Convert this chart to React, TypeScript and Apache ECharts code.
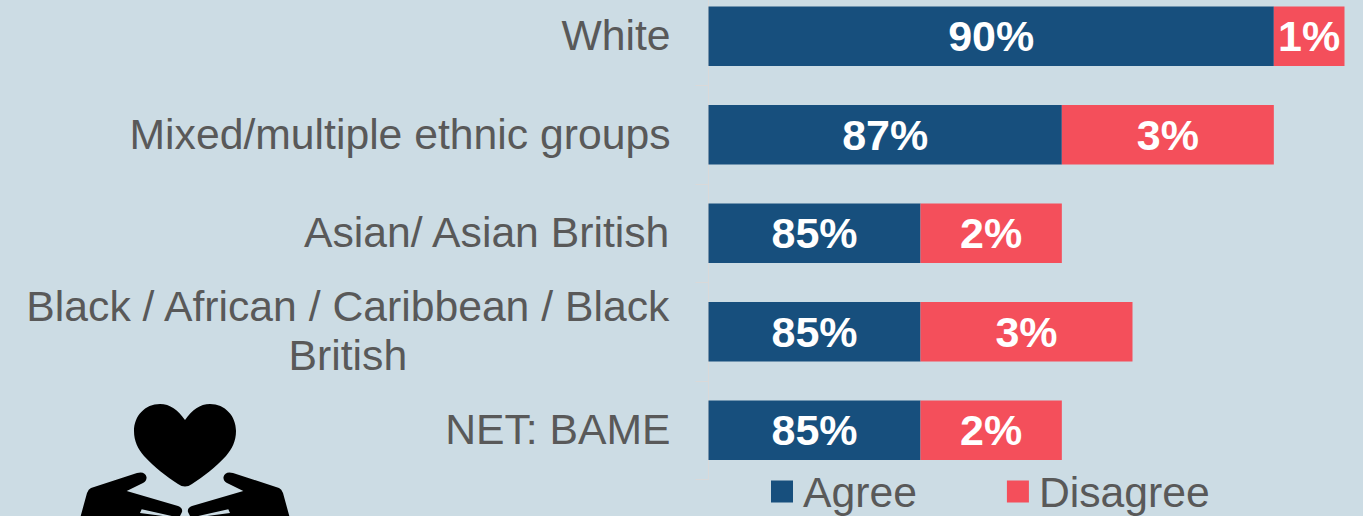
import React, { useEffect, useRef } from "react";
import * as echarts from "echarts";

const categories = [
  "White",
  "Mixed/multiple ethnic groups",
  "Asian/ Asian British",
  "Black / African / Caribbean / Black\nBritish",
  "NET: BAME",
];
const agree = [90, 87, 85, 85, 85];
const disagree = [1, 3, 2, 3, 2];

const heart =
  "M185 420 C178 410 170 404 160 404 C145 404 134 416 134 431 C134 441 138 449 144 456 C155 468 166 476 178 484 Q185 489 192 484 C204 476 215 468 226 456 C232 449 236 441 236 431 C236 416 225 404 210 404 C200 404 192 410 185 420 Z";
const hand =
  "M80.7 516 L87 493 Q88.5 489 91 488 L137 473 Q145 471 146.5 477 Q147 481 143 483 L126.7 491 L178 506 Q183 508 182 512 L180 516 Z M141.7 509.3 L140 513 L163 516 L171.7 516 Z";

echarts.graphic.registerShape("heartIcon", echarts.graphic.extendPath(heart, {}));
echarts.graphic.registerShape("handIcon", echarts.graphic.extendPath(hand, {}));

const FONT = "'Liberation Sans', Arial, sans-serif";
const BG = "#ccdce4";
const TEXT = "#595959";
const BLUE = "#174f7d";
const RED = "#f44f5b";

export default function App() {
  const ref = useRef<HTMLDivElement>(null);
  useEffect(() => {
    const chart = echarts.init(ref.current!, null, { renderer: "svg" });
    const barLabel = {
      show: true,
      position: "inside",
      formatter: "{c}%",
      color: "#ffffff",
      fontFamily: FONT,
      fontWeight: "bold",
      fontSize: 43,
    };
    chart.setOption({
      animation: false,
      backgroundColor: BG,
      textStyle: { fontFamily: FONT },
      grid: { left: 708.5, top: -13, width: 636, height: 492.5, containLabel: false, outerBoundsMode: "none" },
      xAxis: { type: "value", min: 82, max: 91, show: false },
      yAxis: {
        type: "category",
        inverse: true,
        data: categories,
        axisLine: { show: true, lineStyle: { color: "#d9d9d9", width: 1 } },
        axisTick: { show: true, length: 13, lineStyle: { color: "#d9d9d9", width: 1 } },
        axisLabel: {
          margin: 38,
          padding: [0, 0, 2, 0],
          color: TEXT,
          fontFamily: FONT,
          fontSize: 42.7,
          lineHeight: 49,
          interval: 0,
          formatter: (v: string) =>
            v.split("\n").map((s) => `{c|${s}}`).join("\n"),
          rich: {
            c: { align: "center", color: TEXT, fontFamily: FONT, fontSize: 42.7, lineHeight: 49 },
          },
        },
      },
      legend: {
        left: 771,
        top: 470,
        padding: 0,
        itemWidth: 22,
        itemHeight: 22,
        itemGap: 90,
        icon: "rect",
        textStyle: { color: TEXT, fontFamily: FONT, fontSize: 42.7, padding: [0, 0, 0, 5] },
        data: ["Agree", "Disagree"],
      },
      series: [
        {
          name: "Agree",
          type: "bar",
          stack: "total",
          data: agree,
          barWidth: 59.5,
          itemStyle: { color: BLUE },
          label: barLabel,
        },
        {
          name: "Disagree",
          type: "bar",
          stack: "total",
          data: disagree,
          barWidth: 59.5,
          itemStyle: { color: RED },
          label: barLabel,
        },
      ],
      graphic: [
        { type: "heartIcon", x: 0, y: 0, style: { fill: "#000000" } },
        { type: "handIcon", x: 0, y: 0, style: { fill: "#000000" } },
        { type: "handIcon", x: 370, y: 0, scaleX: -1, style: { fill: "#000000" } },
      ],
    });
    return () => chart.dispose();
  }, []);
  return (
    <div
      ref={ref}
      style={{ position: "absolute", left: 0, top: 0, width: 1363, height: 516, overflow: "hidden" }}
    />
  );
}
